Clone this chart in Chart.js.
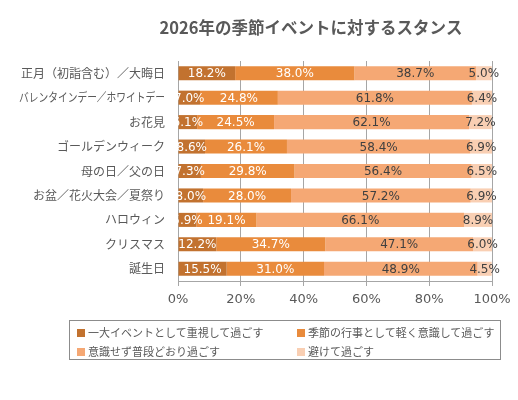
<!DOCTYPE html>
<html>
<head>
<meta charset="utf-8">
<script src="https://cdn.jsdelivr.net/npm/chart.js@4/dist/chart.umd.min.js"></script>
<style>
    html, body { margin: 0; padding: 0; background: #fff; }
    #wrap { position: relative; width: 518px; height: 400px; }
    #legend {
        position: absolute; left: 69px; top: 320px; width: 432px; height: 40px;
        border: 1px solid #8c8c8c; box-sizing: border-box;
        font: 11px "Noto Sans CJK JP", sans-serif; color: #595959;
    }
    #legend .item { position: absolute; white-space: nowrap; line-height: 14px; }
    #legend .sw { display: inline-block; width: 8px; height: 8px; margin-right: 3px; vertical-align: -0px; }
</style>
</head>
<body>
<div id="wrap">
    <canvas id="stanceChart" width="518" height="400"></canvas>
    <div id="legend"></div>
</div>
<script>
// Data
const categories = [
    '正月（初詣含む）／大晦日',
    'バレンタインデー／ホワイトデー',
    'お花見',
    'ゴールデンウィーク',
    '母の日／父の日',
    'お盆／花火大会／夏祭り',
    'ハロウィン',
    'クリスマス',
    '誕生日'
];
const seriesNames = [
    '一大イベントとして重視して過ごす',
    '季節の行事として軽く意識して過ごす',
    '意識せず普段どおり過ごす',
    '避けて過ごす'
];
const bigEvent = [18.2, 7.0, 6.1, 8.6, 7.3, 8.0, 5.9, 12.2, 15.5];
const lightly = [38.0, 24.8, 24.5, 26.1, 29.8, 28.0, 19.1, 34.7, 31.0];
const asUsual = [38.7, 61.8, 62.1, 58.4, 56.4, 57.2, 66.1, 47.1, 48.9];
const avoid = [5.0, 6.4, 7.2, 6.9, 6.5, 6.9, 8.9, 6.0, 4.5];
const tickLabels = ['0%', '20%', '40%', '60%', '80%', '100%'];

const colors = ['#C2722F', '#E98B3C', '#F5A874', '#F9CFB3'];
const labelColors = ['#ffffff', '#ffffff', '#404040', '#404040'];

// Value labels on each segment
const dataLabelsPlugin = {
    id: 'dataLabels',
    afterDatasetsDraw(chart) {
        const { ctx } = chart;
        chart.data.datasets.forEach((dataset, i) => {
            const meta = chart.getDatasetMeta(i);
            meta.data.forEach((bar, index) => {
                const value = dataset.data[index];
                const x = (bar.x + bar.base) / 2;
                ctx.save();
                ctx.font = '12px "DejaVu Sans"';
                ctx.fillStyle = labelColors[i];
                ctx.textAlign = 'center';
                ctx.textBaseline = 'middle';
                ctx.fillText(value.toFixed(1) + '%', x, bar.y + 1);
                ctx.restore();
            });
        });
    }
};

// Category names, squeezed when too long
const categoryLabelsPlugin = {
    id: 'categoryLabels',
    afterDraw(chart) {
        const { ctx } = chart;
        const yScale = chart.scales.y;
        ctx.save();
        ctx.font = '12px "Noto Sans CJK JP"';
        ctx.fillStyle = '#595959';
        ctx.textAlign = 'right';
        ctx.textBaseline = 'middle';
        categories.forEach((name, i) => {
            ctx.fillText(name, chart.chartArea.left - 13, yScale.getPixelForTick(i), 146);
        });
        ctx.restore();
    }
};

const titlePlugin = {
    id: 'titleText',
    afterDraw(chart) {
        const ctx = chart.ctx;
        ctx.save();
        ctx.font = 'bold 16.5px "Noto Sans CJK JP"';
        ctx.fillStyle = '#595959';
        ctx.textAlign = 'center';
        ctx.textBaseline = 'middle';
        ctx.fillText('2026年の季節イベントに対するスタンス', 311, 28);
        ctx.restore();
    }
};

const seriesData = [bigEvent, lightly, asUsual, avoid];

new Chart(document.getElementById('stanceChart').getContext('2d'), {
    type: 'bar',
    data: {
        labels: categories,
        datasets: seriesData.map((d, i) => ({
            label: seriesNames[i],
            data: d,
            backgroundColor: colors[i],
            borderWidth: 0,
            categoryPercentage: 1,
            barPercentage: 0.575
        }))
    },
    options: {
        indexAxis: 'y',
        responsive: false,
        animation: false,
        layout: { padding: { top: 61, right: 26, bottom: 89, left: 0 } },
        plugins: {
            legend: { display: false },
            tooltip: { enabled: false }
        },
        scales: {
            x: {
                stacked: true,
                min: 0,
                max: 100,
                afterFit(scale) { scale.height = 30; },
                afterBuildTicks(scale) {
                    scale.ticks = tickLabels.map((t, i) => ({ value: i * 20 }));
                },
                ticks: {
                    callback: (v, i) => tickLabels[i],
                    color: '#595959',
                    font: { family: 'DejaVu Sans', size: 13 },
                    padding: 6,
                    maxRotation: 0
                },
                grid: { color: '#a6a6a6', lineWidth: 1, tickLength: 5 },
                border: { color: '#a6a6a6' }
            },
            y: {
                stacked: true,
                afterFit(scale) { scale.width = 178; },
                ticks: { display: false },
                grid: { display: false },
                border: { display: false }
            }
        }
    },
    plugins: [dataLabelsPlugin, categoryLabelsPlugin, titlePlugin]
});

// Legend, two columns in a framed box
const legend = document.getElementById('legend');
const pos = [[7, 4], [227, 4], [7, 23], [227, 23]];
seriesNames.forEach((name, i) => {
    const item = document.createElement('div');
    item.className = 'item';
    item.style.left = pos[i][0] + 'px';
    item.style.top = pos[i][1] + 'px';
    item.innerHTML = '<span class="sw" style="background:' + colors[i] + '"></span>' + name;
    legend.appendChild(item);
});
</script>
</body>
</html>
